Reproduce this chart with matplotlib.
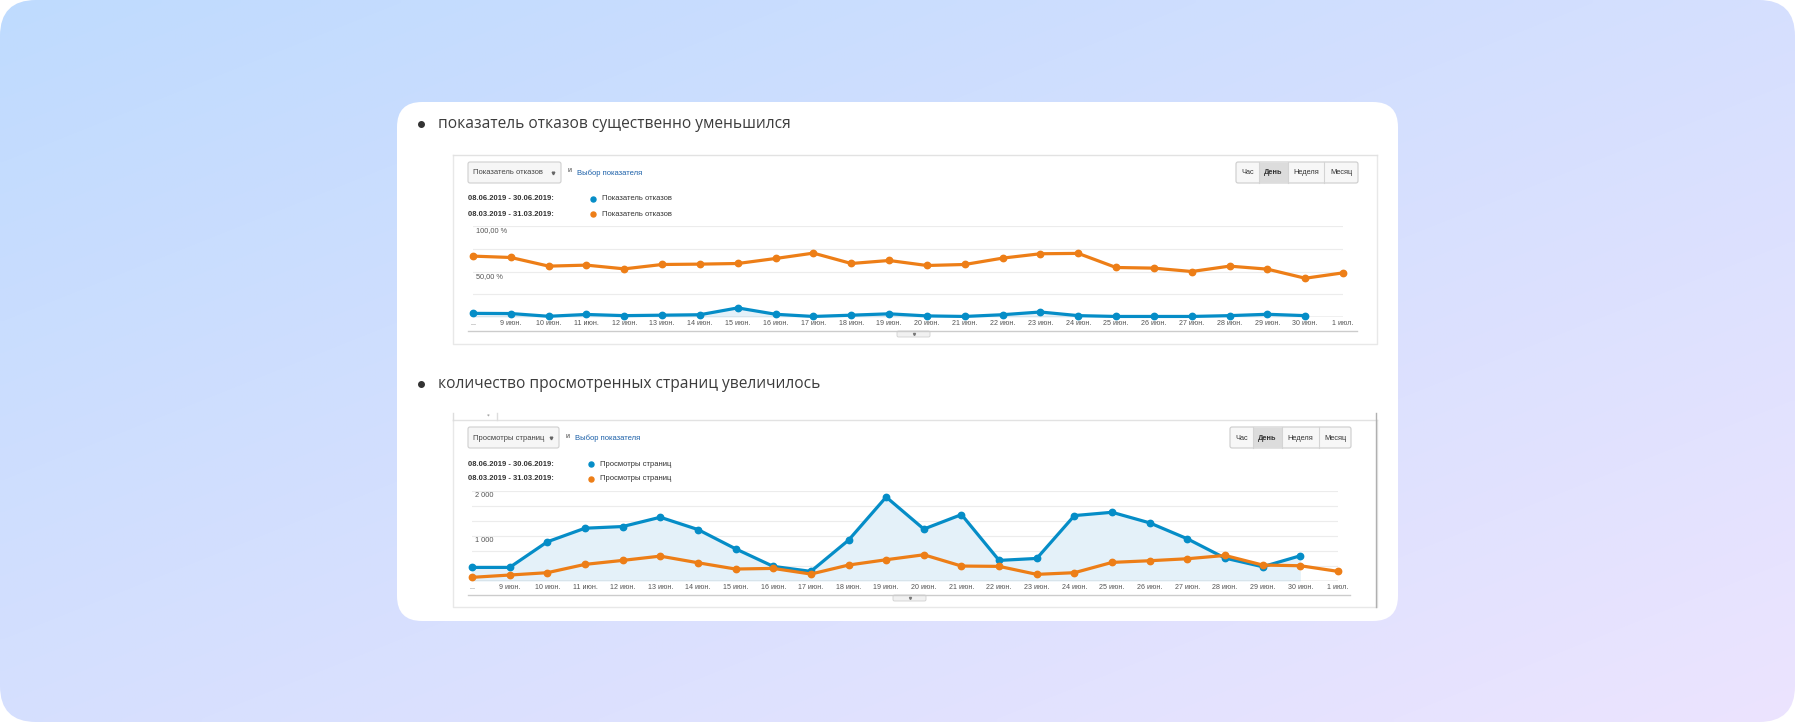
# Two Google Analytics comparison charts on a white card (bounce rate, page views)

import numpy as np
import matplotlib.pyplot as plt
from matplotlib.colors import to_rgb
from matplotlib.patches import FancyBboxPatch, Rectangle

W, H = 1795, 722

# x axis: 8 June .. 1 July
days = ['...', '9 июн.', '10 июн.', '11 июн.', '12 июн.', '13 июн.', '14 июн.',
        '15 июн.', '16 июн.', '17 июн.', '18 июн.', '19 июн.', '20 июн.',
        '21 июн.', '22 июн.', '23 июн.', '24 июн.', '25 июн.', '26 июн.',
        '27 июн.', '28 июн.', '29 июн.', '30 июн.', '1 июл.']

# bounce rate, %
bounce_jun = [4.0, 3.8, 0.8, 2.8, 1.5, 2.0, 2.5, 10.0, 3.0, 0.6, 2.0, 3.5,
              1.2, 0.6, 2.5, 5.5, 1.5, 0.6, 0.6, 0.6, 1.5, 3.0, 1.5]
bounce_mar = [66.9, 65.4, 55.9, 57.0, 52.9, 57.7, 58.1, 58.8, 64.3, 70.2, 58.8, 62.1,
              56.6, 57.7, 64.7, 69.5, 69.9, 54.4, 53.7, 50.0, 55.9, 52.6, 42.6, 48.5]

# page views
views_jun = [301, 301, 868, 1169, 1206, 1412, 1140, 713, 324, 213, 904, 1860,
             1150, 1471, 456, 500, 1449, 1522, 1287, 934, 507, 316, 559]
views_mar = [81, 132, 184, 368, 456, 551, 404, 265, 279, 154, 353, 471,
             581, 331, 324, 147, 184, 412, 449, 493, 566, 353, 338, 213]

bullets = ['показатель отказов существенно уменьшился',
           'количество просмотренных страниц увеличилось']
period_new = '08.06.2019 - 30.06.2019:'
period_old = '08.03.2019 - 31.03.2019:'
buttons = ['Час', 'День', 'Неделя', 'Месяц']

BLUE = '#058dc7'
ORANGE = '#ed7e17'
GA_FONT = 'Liberation Sans'

fig = plt.figure(figsize=(W / 100, H / 100), dpi=100, facecolor='white')
ax0 = fig.add_axes([0, 0, 1, 1])

# gradient background with rounded corners
gx = np.linspace(0, 1, 300)
gy = np.linspace(0, 1, 120)
t = (gx[None, :] + gy[:, None]) / 2
c0 = np.array(to_rgb('#bfdbfe'))
c1 = np.array(to_rgb('#ece4fe'))
img = c0 + (c1 - c0) * t[..., None]
im = ax0.imshow(img, extent=(0, W, H, 0), interpolation='bilinear', aspect='auto')
clip = FancyBboxPatch((0, 0), W, H, boxstyle='round,pad=0,rounding_size=36',
                      facecolor='none', edgecolor='none', transform=ax0.transData)
ax0.add_patch(clip)
im.set_clip_path(clip)
ax0.set_xlim(0, W)
ax0.set_ylim(H, 0)
ax0.axis('off')

# white card
ax0.add_patch(FancyBboxPatch((397, 102), 1001, 519, boxstyle='round,pad=0,rounding_size=25',
                             facecolor='white', edgecolor='none'))

# bullet lines
for yb, txt in zip([124, 384], bullets):
    ax0.plot(421, yb, 'o', ms=4, color='#333333')
    ax0.text(438, yb, txt, fontsize=11.2, family='Open Sans', color='#3c3c3c',
             va='center', ha='left')


def ga_header(y0, dd_right, bx0, bx1, bdiv, metric):
    # metric dropdown
    ax0.add_patch(FancyBboxPatch((468, y0), dd_right - 468, 21, boxstyle='round,pad=0,rounding_size=2',
                                 facecolor='#f6f6f6', edgecolor='#cfcfcf', lw=0.8))
    ax0.text(473, y0 + 11, metric, fontsize=5.5, family=GA_FONT, color='#444444', va='center')
    ax0.plot(dd_right - 8, y0 + 10.5, marker='v', ms=1.9, color='#666666')
    ax0.text(dd_right + 6, y0 + 9, 'и', fontsize=5, family=GA_FONT, color='#444444', va='center')
    ax0.text(dd_right + 16, y0 + 11, 'Выбор показателя', fontsize=5.5, family=GA_FONT,
             color='#1a5fa8', va='center')
    # legend
    for k, (per, col) in enumerate([(period_new, BLUE), (period_old, ORANGE)]):
        yy = y0 + 37 + 15 * k
        ax0.text(468, yy, per, fontsize=5.5, family=GA_FONT, weight='bold', color='#333333', va='center')
        ax0.plot(dd_right + 32, yy, 'o', ms=3.6, color=col)
        ax0.text(dd_right + 41, yy, metric, fontsize=5.5, family=GA_FONT, color='#333333', va='center')
    # period buttons
    ax0.add_patch(FancyBboxPatch((bx0, y0), bx1 - bx0, 21, boxstyle='round,pad=0,rounding_size=2',
                                 facecolor='#f7f7f7', edgecolor='#cccccc', lw=0.8))
    edges = [bx0] + bdiv + [bx1]
    ax0.add_patch(Rectangle((edges[1], y0 + 0.5), edges[2] - edges[1], 20, facecolor='#dcdcdc',
                            edgecolor='none'))
    for i, b in enumerate(buttons):
        if i > 0:
            ax0.plot([edges[i], edges[i]], [y0, y0 + 21], color='#d4d4d4', lw=0.8)
        ax0.text((edges[i] + edges[i + 1]) / 2, y0 + 11, b, fontsize=5.3, family=GA_FONT,
                 color='#333333', va='center', ha='center', weight='bold' if i == 1 else 'normal')


def ga_frame(top, bottom, axis_y, handle_x, axis_right, tab=False):
    ax0.plot([453, 453, 1377, 1377], [top, bottom, bottom, top], color='#e8e8e8', lw=1)
    ax0.plot([453, 1377], [top, top], color='#e2e2e2', lw=1)
    if tab:
        ax0.plot([453, 453], [top - 7, top], color='#dddddd', lw=1)
        ax0.plot([497, 497], [top - 7, top], color='#dddddd', lw=1)
        ax0.text(488, top - 4, '*', fontsize=4, color='#777777', ha='center', va='center')
        ax0.plot([1376, 1376], [top - 7, bottom], color='#b0b0b0', lw=1)
    ax0.plot([468, axis_right], [axis_y, axis_y], color='#cccccc', lw=1)
    ax0.add_patch(FancyBboxPatch((handle_x, axis_y), 33, 6, boxstyle='round,pad=0,rounding_size=1.5',
                                 facecolor='#f1f1f1', edgecolor='#d0d0d0', lw=0.6))
    ax0.plot(handle_x + 16.5, axis_y + 3, marker='v', ms=1.5, color='#777777')


def ga_chart(left, right, top, bottom, ymax, step, jun, mar, ylabels):
    ax = fig.add_axes([left / W, 1 - bottom / H, (right - left) / W, (bottom - top) / H])
    ax.set_facecolor('none')
    x = np.arange(len(days))
    ax.set_xlim(0, len(days) - 1)
    ax.set_ylim(0, ymax)
    for g in np.arange(step, ymax + 1e-6, step):
        ax.axhline(g, color='#ececec', lw=0.8, zorder=0)
    ax.fill_between(x[:len(jun)], jun, color='#e4f1f9', lw=0, zorder=1)
    ax.axhline(0, color='#8c8c8c', lw=0.9, zorder=2)
    ax.plot(x[:len(jun)], jun, color=BLUE, lw=2.3, marker='o', ms=4.6, clip_on=False, zorder=3)
    ax.plot(x, mar, color=ORANGE, lw=2.3, marker='o', ms=4.6, clip_on=False, zorder=4)
    for val, lbl in ylabels:
        ax.annotate(lbl, xy=(0, val), xytext=(3, -5), textcoords='offset pixels', fontsize=5.3,
                    family=GA_FONT, color='#555555', va='center', ha='left')
    ax.set_xticks(x, days, fontsize=5.1, family=GA_FONT, color='#555555')
    ax.set_yticks([])
    ax.tick_params(length=0, pad=2.5)
    for s in ax.spines.values():
        s.set_visible(False)
    return ax


# chart 1: bounce rate
ga_frame(155, 344, 331, 897, 1357)
ga_header(162, 561, 1236, 1358, [1259, 1288, 1324], 'Показатель отказов')
ga_chart(473, 1343, 226, 317, 100, 25, bounce_jun, bounce_mar,
         [(100, '100,00 %'), (50, '50,00 %')])

# chart 2: page views
ga_frame(420, 607, 595, 893, 1350, tab=True)
ga_header(427, 559, 1230, 1351, [1253, 1282, 1319], 'Просмотры страниц')
ga_chart(472, 1338, 490.7, 581, 2000, 2000 / 6, views_jun, views_mar,
         [(2000, '2 000'), (1000, '1 000')])

fig.savefig('out.png', dpi=100, facecolor='white')
